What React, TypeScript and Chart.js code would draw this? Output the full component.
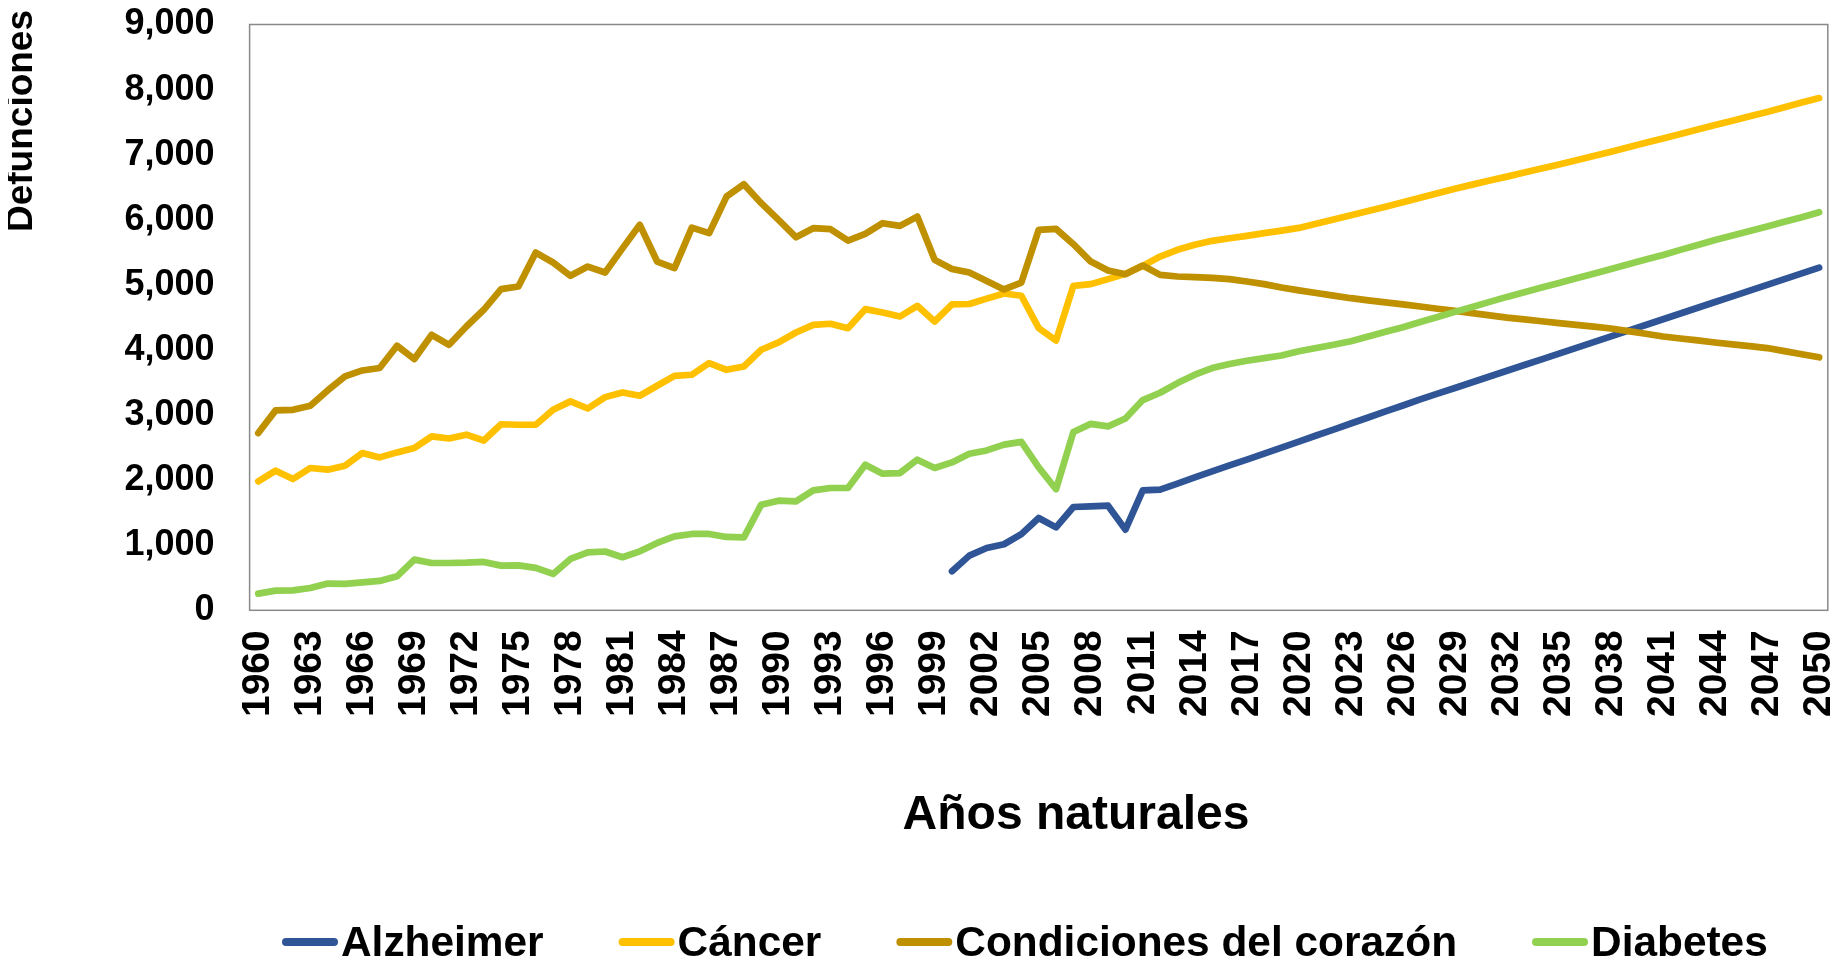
import React, { useEffect, useRef } from 'react';
import { Chart, registerables } from 'chart.js';

Chart.register(...registerables);

const years: number[] = [
  1960, 1961, 1962, 1963, 1964, 1965, 1966, 1967, 1968, 1969,
  1970, 1971, 1972, 1973, 1974, 1975, 1976, 1977, 1978, 1979,
  1980, 1981, 1982, 1983, 1984, 1985, 1986, 1987, 1988, 1989,
  1990, 1991, 1992, 1993, 1994, 1995, 1996, 1997, 1998, 1999,
  2000, 2001, 2002, 2003, 2004, 2005, 2006, 2007, 2008, 2009,
  2010, 2011, 2012, 2013, 2014, 2015, 2016, 2017, 2018, 2019,
  2020, 2021, 2022, 2023, 2024, 2025, 2026, 2027, 2028, 2029,
  2030, 2031, 2032, 2033, 2034, 2035, 2036, 2037, 2038, 2039,
  2040, 2041, 2042, 2043, 2044, 2045, 2046, 2047, 2048, 2049,
  2050,
];

const tickYears: number[] = [
  1960, 1963, 1966, 1969, 1972, 1975, 1978, 1981, 1984, 1987, 1990,
  1993, 1996, 1999, 2002, 2005, 2008, 2011, 2014, 2017, 2020, 2023,
  2026, 2029, 2032, 2035, 2038, 2041, 2044, 2047, 2050,
];

const yMin = 0;
const yMax = 9000;
const yStep = 1000;

const alzheimer: (number | null)[] = [
  null, null, null, null, null, null, null, null, null, null,
  null, null, null, null, null, null, null, null, null, null,
  null, null, null, null, null, null, null, null, null, null,
  null, null, null, null, null, null, null, null, null, null,
  599, 840, 958, 1015, 1170, 1418, 1274, 1587, 1597, 1607,
  1239, 1842, 1853, 1945, 2042, 2134, 2226, 2314, 2407, 2500,
  2592, 2685, 2777, 2870, 2962, 3055, 3147, 3240, 3328, 3416,
  3504, 3592, 3680, 3768, 3856, 3944, 4032, 4120, 4208, 4296,
  4384, 4472, 4560, 4648, 4736, 4824, 4912, 5000, 5088, 5176,
  5264,
];

const cancer: number[] = [
  1981, 2145, 2017, 2186, 2160, 2221, 2416, 2349, 2426, 2493,
  2672, 2640, 2698, 2608, 2858, 2851, 2851, 3080, 3210, 3100,
  3275, 3347, 3296, 3450, 3603, 3619, 3798, 3695, 3746, 4003,
  4115, 4268, 4386, 4402, 4335, 4627, 4575, 4514, 4678, 4437,
  4700, 4706, 4788, 4868, 4832, 4335, 4145, 4985, 5011, 5088,
  5169, 5292, 5435, 5538, 5615, 5676, 5717, 5753, 5794, 5834,
  5875, 5940, 6005, 6070, 6135, 6200, 6268, 6338, 6408, 6478,
  6540, 6602, 6663, 6725, 6788, 6850, 6915, 6980, 7045, 7113,
  7182, 7250, 7318, 7388, 7457, 7523, 7590, 7656, 7728, 7800,
  7870,
];

const heart: number[] = [
  2724, 3071, 3080, 3143, 3378, 3593, 3685, 3722, 4064, 3860,
  4233, 4079, 4360, 4617, 4934, 4974, 5496, 5343, 5139, 5281,
  5190, 5560, 5922, 5358, 5257, 5880, 5794, 6356, 6546, 6255,
  5998, 5732, 5871, 5855, 5681, 5783, 5947, 5906, 6049, 5384,
  5245, 5189, 5060, 4930, 5036, 5845, 5860, 5625, 5358, 5220,
  5164, 5297, 5154, 5128, 5118, 5108, 5088, 5051, 5011, 4959,
  4915, 4875, 4835, 4795, 4762, 4730, 4700, 4667, 4633, 4600,
  4566, 4532, 4497, 4469, 4441, 4413, 4385, 4358, 4330, 4290,
  4248, 4207, 4176, 4146, 4115, 4086, 4058, 4029, 3982, 3934,
  3887,
];

const diabetes: number[] = [
  256, 302, 307, 343, 410, 405, 430, 451, 522, 778,
  727, 727, 732, 743, 686, 691, 651, 559, 789, 890,
  903, 815, 906, 1035, 1136, 1173, 1173, 1127, 1121, 1623,
  1684, 1673, 1842, 1879, 1879, 2237, 2099, 2109, 2314, 2186,
  2272, 2406, 2456, 2545, 2587, 2195, 1860, 2740, 2864, 2825,
  2946, 3230, 3342, 3491, 3619, 3722, 3783, 3834, 3875, 3915,
  3980, 4030, 4080, 4135, 4205, 4280, 4350, 4428, 4505, 4585,
  4660, 4738, 4815, 4885, 4958, 5030, 5100, 5172, 5245, 5318,
  5390, 5460, 5537, 5613, 5690, 5758, 5827, 5895, 5968, 6040,
  6115,
];

const seriesLabels = ['Alzheimer', 'Cáncer', 'Condiciones del corazón', 'Diabetes'];
const seriesColors = ['#2F5597', '#FFC000', '#BF9000', '#92D050'];
const xTitle = 'Años naturales';
const yTitle = 'Defunciones';

const FAMILY = '"Liberation Sans", Arial, Helvetica, sans-serif';

const overlayPlugin = {
  id: 'overlay',
  beforeDatasetsDraw(chart: any) {
    const { ctx, chartArea: a } = chart;
    ctx.save();
    ctx.strokeStyle = '#898989';
    ctx.lineWidth = 1.5;
    ctx.strokeRect(a.left, a.top, a.right - a.left, a.bottom - a.top);
    ctx.restore();
  },
  afterDraw(chart: any) {
    const { ctx } = chart;
    // Y axis title
    ctx.save();
    ctx.fillStyle = '#000';
    ctx.font = `bold 37px ${FAMILY}`;
    ctx.translate(14, 113);
    ctx.rotate(-Math.PI / 2);
    ctx.textAlign = 'center';
    ctx.textBaseline = 'middle';
    ctx.fillText(yTitle, 0, 0);
    ctx.restore();

    // X axis title
    ctx.save();
    ctx.fillStyle = '#000';
    ctx.font = `bold 48px ${FAMILY}`;
    ctx.textAlign = 'center';
    ctx.textBaseline = 'middle';
    ctx.fillText(xTitle, 1068, 808);
    ctx.restore();

    // Legend
    ctx.save();
    ctx.font = `bold 42.4px ${FAMILY}`;
    ctx.textAlign = 'left';
    ctx.textBaseline = 'alphabetic';
    let x = 274;
    const markerW = 56;
    const markerY = 934;
    const textGap = 3;
    const itemGap = 75;
    chart.data.datasets.forEach((ds: any) => {
      ctx.strokeStyle = ds.borderColor;
      ctx.lineWidth = 8;
      ctx.lineCap = 'round';
      ctx.beginPath();
      ctx.moveTo(x + 4, markerY);
      ctx.lineTo(x + markerW - 4, markerY);
      ctx.stroke();
      const tx = x + markerW + textGap;
      ctx.fillStyle = '#000';
      ctx.fillText(ds.label, tx, 948);
      x = tx + ctx.measureText(ds.label).width + itemGap;
    });
    ctx.restore();
  },
};

export default function App() {
  const canvasRef = useRef<HTMLCanvasElement | null>(null);

  useEffect(() => {
    const canvas = canvasRef.current;
    if (!canvas) return;
    const seriesData = [alzheimer, cancer, heart, diabetes];
    const orders = [3, 2, 1, 0];
    const chart = new Chart(canvas, {
      type: 'line',
      data: {
        labels: years.map(String),
        datasets: seriesLabels.map((label, i) => ({
          label,
          data: seriesData[i],
          borderColor: seriesColors[i],
          backgroundColor: seriesColors[i],
          borderWidth: 6.7,
          pointRadius: 0,
          pointHoverRadius: 0,
          tension: 0,
          fill: false,
          spanGaps: false,
          borderCapStyle: 'round',
          borderJoinStyle: 'round',
          order: orders[i],
        })),
      },
      plugins: [overlayPlugin],
      options: {
        responsive: false,
        animation: false,
        events: [],
        layout: { padding: { top: 16.5, right: 8.2, left: 0, bottom: 0 } },
        plugins: {
          legend: { display: false },
          tooltip: { enabled: false },
          title: { display: false },
        },
        scales: {
          x: {
            type: 'category',
            offset: true,
            grid: { display: false, drawTicks: false },
            border: { display: false },
            ticks: {
              autoSkip: false,
              maxRotation: 90,
              minRotation: 90,
              padding: 20,
              color: '#000',
              font: { family: FAMILY, size: 39, weight: 'bold' },
              callback: (_v: any, idx: number) =>
                tickYears.includes(years[idx]) ? String(years[idx]) : '',
            },
            afterFit: (scale: any) => {
              scale.height = 347.7;
              scale.paddingLeft = 0;
              scale.paddingRight = 0;
            },
          },
          y: {
            min: yMin,
            max: yMax,
            grid: { display: false, drawTicks: false },
            border: { display: false },
            ticks: {
              stepSize: yStep,
              padding: 35,
              color: '#000',
              font: { family: FAMILY, size: 36, weight: 'bold' },
              callback: (v: any) => Number(v).toLocaleString('en-US'),
            },
            afterFit: (scale: any) => {
              scale.width = 241.6;
              scale.paddingTop = 0;
              scale.paddingBottom = 0;
            },
          },
        },
      } as any,
    });
    return () => chart.destroy();
  }, []);

  return (
    <div style={{ width: 1828, height: 950 }}>
      <canvas ref={canvasRef} width={1828} height={950} style={{ display: 'block', width: 1828, height: 950 }} />
    </div>
  );
}
